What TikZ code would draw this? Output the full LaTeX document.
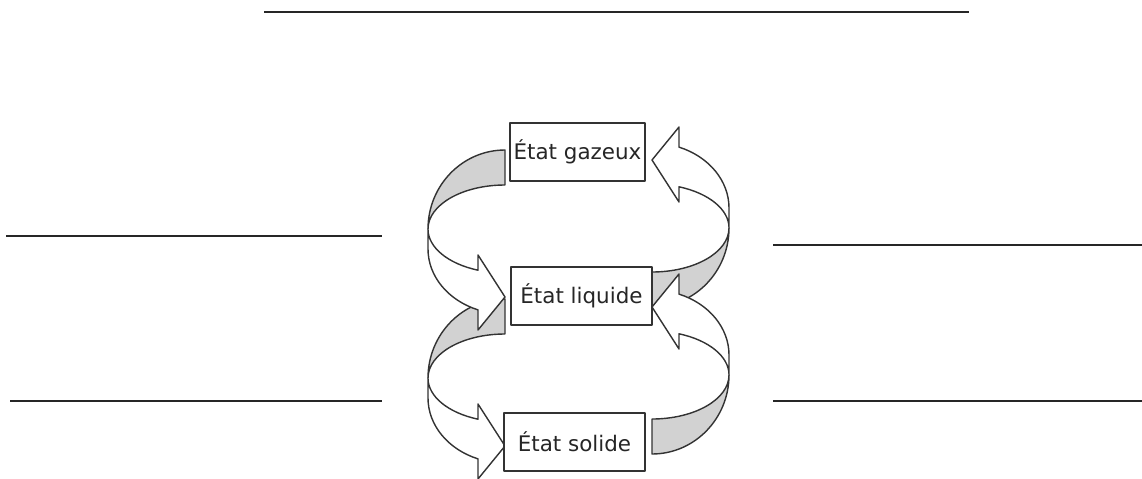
\documentclass[tikz,border=0pt]{standalone}
\usepackage{fontspec}
\setmainfont{DejaVu Sans}
\begin{document}
\begin{tikzpicture}[x=0.02cm, y=0.02cm, line join=round,
    etat/.style={draw=black!80, fill=white, line width=0.8pt, inner sep=0pt,
        minimum height=1.16cm, text=black!85, font=\fontsize{12.2}{14}\selectfont},
    dos/.style={draw=black!80, fill=gray!35, line width=0.8pt},
    face/.style={draw=black!80, fill=white, line width=0.8pt},
    ligne/.style={line width=1.6pt, black!85}]
    \useasboundingbox (0,0) rectangle (1142,478);

    \draw[ligne] (264,466) -- (969,466);
    \draw[ligne] (6,242) -- (382,242);
    \draw[ligne] (10,77) -- (382,77);
    \draw[ligne] (773,233) -- (1142,233);
    \draw[ligne] (773,77) -- (1142,77);

    \foreach \cx/\cy/\rot in {505/249/0, 505/100/0, 652/250/180, 652/103/180} {
        \begin{scope}[shift={(\cx,\cy)}, rotate=\rot]
            \draw[dos] (0,79)
                arc[start angle=90, end angle=180, x radius=77, y radius=79]
                arc[start angle=180, end angle=90, x radius=77, y radius=44]
                -- cycle;
        \end{scope}
    }

    \foreach \cx/\cy/\rot in {505/249/0, 505/100/0, 652/250/180, 652/103/180} {
        \begin{scope}[shift={(\cx,\cy)}, rotate=\rot]
            \draw[face] (-77,0) -- (-77,-20)
                arc[start angle=180, end angle=249.5, x radius=77, y radius=65]
                -- (-27,-101) -- (0,-68) -- (-27,-26) -- (-27,-41.2)
                arc[start angle=249.5, end angle=180, x radius=77, y radius=44]
                -- cycle;
        \end{scope}
    }

    \node[etat, minimum width=2.7cm] (gaz) at (577.5,326) {État gazeux};
    \node[etat, minimum width=2.82cm] (liq) at (581.5,182) {État liquide};
    \node[etat, minimum width=2.82cm] (sol) at (574.5,36) {État solide};
\end{tikzpicture}
\end{document}
